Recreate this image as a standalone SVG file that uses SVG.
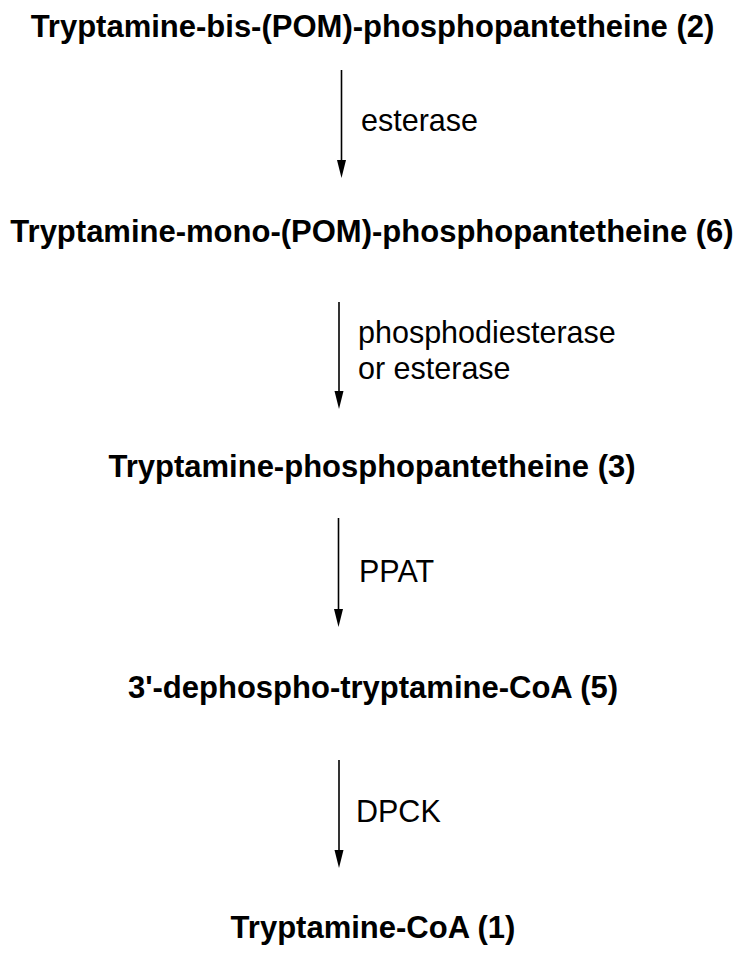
<svg xmlns="http://www.w3.org/2000/svg" width="752" height="957" viewBox="0 0 752 957">
  <style>
    .title { font-family: "Liberation Sans", Arial, sans-serif; font-weight: bold; font-size: 31px; fill: #000; text-anchor: middle; }
    .label { font-family: "Liberation Sans", Arial, sans-serif; font-size: 30.5px; fill: #000; }
    .arrow { stroke: #000; stroke-width: 1.6; fill: none; marker-end: url(#head); }
  </style>
  <defs>
    <marker id="head" markerUnits="userSpaceOnUse" markerWidth="20" markerHeight="10" refX="10" refY="4.5" orient="auto">
      <path d="M0,0 L18,4.5 L0,9 Z" fill="#000"/>
    </marker>
  </defs>
  <rect width="752" height="957" fill="#fff"/>
  <g id="n2"><text class="title" x="372.5" y="37">Tryptamine-bis-(POM)-phosphopantetheine (2)</text></g>
  <g id="n6"><text class="title" x="372" y="242">Tryptamine-mono-(POM)-phosphopantetheine (6)</text></g>
  <g id="n3"><text class="title" x="372" y="477">Tryptamine-phosphopantetheine (3)</text></g>
  <g id="n5"><text class="title" x="373" y="698">3'-dephospho-tryptamine-CoA (5)</text></g>
  <g id="n1"><text class="title" x="373" y="938">Tryptamine-CoA (1)</text></g>
  <g id="connectors">
    <line class="arrow" x1="341.5" y1="70" x2="341.5" y2="170"/>
    <line class="arrow" x1="339" y1="302" x2="339" y2="401"/>
    <line class="arrow" x1="338.5" y1="518" x2="338.5" y2="619"/>
    <line class="arrow" x1="339" y1="760" x2="339" y2="860"/>
    <text class="label" x="361" y="131">esterase</text>
    <text class="label" x="358" y="343">phosphodiesterase</text>
    <text class="label" x="358" y="379">or esterase</text>
    <text class="label" x="359" y="582">PPAT</text>
    <text class="label" x="356" y="822">DPCK</text>
  </g>
</svg>
